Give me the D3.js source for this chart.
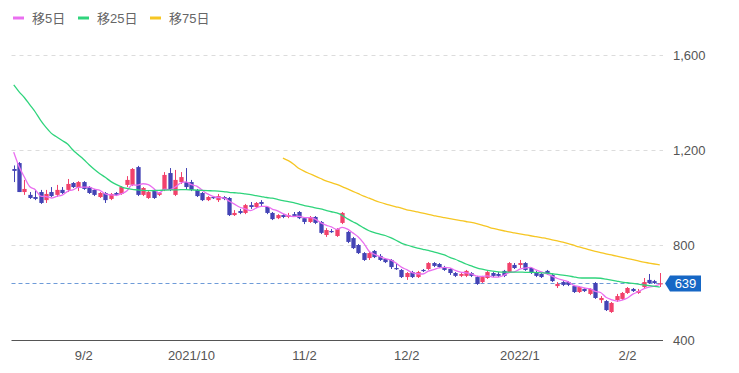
<!DOCTYPE html>
<html>
<head>
<meta charset="utf-8">
<script src="https://cdn.jsdelivr.net/npm/d3@7"></script>
<style>
  body { margin: 0; background: #fff; }
  svg { display: block; font-family: Arial, "Liberation Sans", "Noto Sans CJK JP", sans-serif; }
</style>
</head>
<body>
<svg width="739" height="373"></svg>
<script>
// daily candles, oldest first (2021/8 .. 2022/2)
var opens = [1120,1145,1023,1011,1002,1023,989,1023,1011,1032,
  1032,1061,1040,1065,1044,1032,1002,1019,994,1019,
  1015,1053,1053,1128,1011,998,1032,1011,1032,1103,
  1011,1065,1065,1065,1032,1019,989,1002,989,1002,
  998,926,943,935,968,960,981,960,935,913,
  926,918,930,939,913,897,918,897,842,859,
  838,893,855,829,800,766,745,775,754,741,
  737,703,695,665,686,665,695,699,724,720,
  707,699,682,670,670,682,665,644,661,682,
  678,691,686,716,716,724,703,686,678,691,
  674,627,644,644,627,602,615,594,640,568,
  564,518,568,573,598,615,598,623,653,648,
  636];
var highs = [1135,1149,1074,1023,1032,1032,1032,1044,1053,1044,
  1078,1065,1069,1069,1048,1036,1023,1023,1019,1023,
  1048,1090,1124,1133,1044,1027,1036,1023,1107,1124,
  1116,1107,1124,1074,1036,1023,1006,1006,1015,1006,
  1002,947,952,973,981,981,989,964,939,930,
  930,935,939,943,918,922,922,901,871,867,
  871,939,859,834,804,770,775,779,762,745,
  741,720,699,686,691,691,699,728,728,724,
  712,703,686,682,695,686,670,670,691,686,
  686,695,728,724,737,728,707,691,682,695,
  678,644,648,648,632,627,619,619,644,585,
  568,560,594,602,623,619,615,661,678,653,
  682];
var lows = [1065,1023,1011,994,989,973,977,1002,1002,1015,
  1023,1040,1027,1032,1015,1006,998,977,989,1006,
  1011,1044,1048,1006,1006,994,994,1006,1027,1027,
  1006,1057,1032,1027,1002,985,985,994,981,989,
  922,922,930,930,952,956,964,930,905,909,
  913,913,918,909,888,893,888,846,834,851,
  834,888,808,783,762,733,737,745,733,724,
  699,695,661,653,661,661,686,695,707,703,
  691,674,665,665,665,665,632,640,657,665,
  665,665,682,699,703,691,678,665,661,674,
  644,619,627,627,598,598,602,589,573,556,
  522,514,560,568,594,602,594,619,636,636,
  623];
var closes = [1112,1023,1036,998,994,977,1015,1006,1032,1019,
  1057,1044,1065,1036,1019,1011,1019,989,1015,1011,
  1044,1074,1120,1011,1040,1023,998,1019,1095,1032,
  1074,1086,1044,1032,1006,989,1002,998,1006,994,
  926,935,935,968,960,977,973,935,909,926,
  918,926,922,913,897,918,893,851,863,855,
  867,935,813,787,766,737,766,749,737,728,
  707,699,665,682,665,686,691,724,712,707,
  695,682,670,678,691,670,636,665,686,670,
  670,670,724,703,724,695,682,670,665,678,
  648,636,632,632,602,623,606,615,577,577,
  526,556,585,598,619,606,606,644,640,640,
  639];

// moving averages
var ma5 = [1191,1130,1085,1045,1033,1006,1004,998,1005,1010,
  1026,1032,1043,1044,1044,1035,1030,1015,1011,1009,
  1016,1027,1053,1052,1058,1054,1038,1018,1035,1033,
  1044,1061,1066,1054,1048,1031,1015,1005,1000,998,
  985,972,959,952,945,955,963,963,951,944,
  932,923,920,921,915,915,909,894,884,876,
  866,874,867,851,834,808,774,761,751,743,
  737,724,707,696,684,679,678,690,696,704,
  706,704,693,686,683,678,669,668,670,665,
  665,672,684,687,698,703,706,695,687,678,
  669,659,652,645,630,625,619,616,605,600,
  580,570,564,568,577,593,603,615,623,627,
  634];
var ma25 = [1474,1445,1420,1390,1360,1325,1295,1270,1255,1240,
  1225,1200,1180,1160,1138,1118,1100,1085,1068,1055,
  1045,1038,1034,1032,1030,1029,1029,1030,1031,1032,
  1032,1033,1033,1032,1031,1030,1029,1028,1027,1025,
  1022,1020,1018,1015,1012,1008,1004,1000,997,992,
  987,983,978,972,966,962,956,952,946,940,
  935,925,910,898,886,872,860,852,846,840,
  831,820,808,800,793,787,782,777,771,765,
  758,748,740,730,720,712,704,698,693,690,
  687,686,686,686,686,685,685,684,683,682,
  679,676,673,670,666,662,661,661,661,660,
  656,652,648,644,641,638,635,632,629,626,
  623];
var ma75 = [null,null,null,null,null,null,null,null,null,null,
  null,null,null,null,null,null,null,null,null,null,
  null,null,null,null,null,null,null,null,null,null,
  null,null,null,null,null,null,null,null,null,null,
  null,null,null,null,null,null,null,null,null,null,
  1166,1155,1140,1122,1110,1100,1090,1080,1070,1063,
  1055,1046,1036,1026,1016,1006,997,988,980,973,
  967,961,955,948,944,939,934,929,924,919,
  915,911,907,903,899,895,890,884,877,870,
  865,860,855,851,847,843,839,835,831,827,
  822,817,812,806,799,792,786,779,773,768,
  763,758,753,748,743,738,733,728,724,720,
  716];

var tickIdx = [13, 33, 54, 73, 94, 114];
var tickLabels = ["9/2", "2021/10", "11/2", "12/2", "2022/1", "2/2"];
var yTicks = [400, 800, 1200, 1600];
var gridTicks = [800, 1200, 1600];
var legendNames = ["移5日", "移25日", "移75日"];
var lastPrice = 639;

var colUp = "#f2416b", colDown = "#4343b5";
var maColors = ["#ea6ff0", "#2fd47c", "#f6c623"];

var svg = d3.select("svg");
var plotL = 10.5, plotR = 663, plotT = 55, plotB = 340;

var x = d3.scaleBand()
    .domain(d3.range(closes.length))
    .range([plotL, plotR])
    .padding(0.2);
var bw = x.bandwidth();
var cx = function(i) { return x(i) + bw / 2; };

var y = d3.scaleLinear().domain([400, 1600]).range([plotB, plotT]);

// grid
svg.append("g").selectAll("line")
    .data(gridTicks)
    .enter().append("line")
    .attr("x1", plotL + 1).attr("x2", plotR)
    .attr("y1", function(d) { return Math.round(y(d)) + 0.5; })
    .attr("y2", function(d) { return Math.round(y(d)) + 0.5; })
    .attr("stroke", "#dcdcdc")
    .attr("stroke-dasharray", "4,4");

// axes
var xAxis = d3.axisBottom(x)
    .tickValues(tickIdx)
    .tickFormat(function(d, i) { return tickLabels[i]; })
    .tickSize(0)
    .tickPadding(10);
var gx = svg.append("g")
    .attr("transform", "translate(0," + (plotB + 0.5) + ")")
    .call(xAxis);
gx.select(".domain").attr("stroke", "#555").attr("d", "M" + (plotL + 1) + ",0H" + plotR);
gx.selectAll("text").attr("fill", "#555").style("font-size", "13px");

var yAxis = d3.axisRight(y)
    .tickValues(yTicks)
    .tickFormat(d3.format(","))
    .tickSize(0)
    .tickPadding(10);
var gy = svg.append("g")
    .attr("transform", "translate(" + plotR + ",0)")
    .call(yAxis);
gy.select(".domain").remove();
gy.selectAll("text").attr("fill", "#555").style("font-size", "13px");

// current price line
svg.append("line")
    .attr("x1", plotL + 1).attr("x2", plotR)
    .attr("y1", Math.round(y(lastPrice)) + 0.5).attr("y2", Math.round(y(lastPrice)) + 0.5)
    .attr("stroke", "#6e9bd8")
    .attr("stroke-dasharray", "4,3");

// candles
var candles = svg.append("g").selectAll("g")
    .data(closes.map(function(c, i) { return { i: i, o: opens[i], h: highs[i], l: lows[i], c: c }; }))
    .enter().append("g")
    .attr("fill", function(d) { return d.c >= d.o ? colUp : colDown; })
    .attr("stroke", function(d) { return d.c >= d.o ? colUp : colDown; });

candles.append("line")
    .attr("x1", function(d) { return Math.round(cx(d.i)) + 0.5; })
    .attr("x2", function(d) { return Math.round(cx(d.i)) + 0.5; })
    .attr("y1", function(d) { return y(d.h); })
    .attr("y2", function(d) { return y(d.l); });

candles.append("rect")
    .attr("stroke", "none")
    .attr("x", function(d) { return Math.round(cx(d.i)) + 0.5 - bw / 2; })
    .attr("width", bw)
    .attr("y", function(d) { return y(Math.max(d.o, d.c)); })
    .attr("height", function(d) { return Math.max(1.2, Math.abs(y(d.o) - y(d.c))); });

// moving averages
[ma5, ma25, ma75].forEach(function(series, k) {
  var line = d3.line()
      .defined(function(d) { return d != null; })
      .x(function(d, i) { return cx(i); })
      .y(function(d) { return y(d); })
      .curve(d3.curveMonotoneX);
  svg.append("path")
      .datum(series)
      .attr("fill", "none")
      .attr("stroke", maColors[k])
      .attr("stroke-width", 1.3)
      .attr("d", line);
});

// price tag
var py = Math.round(y(lastPrice)) + 0.5;
svg.append("path")
    .attr("d", "M665," + py + "L670," + (py - 8) + "H701V" + (py + 8) + "H670Z")
    .attr("fill", "#1667c5");
svg.append("text")
    .attr("x", 685.5).attr("y", py + 4.5)
    .attr("text-anchor", "middle")
    .attr("fill", "#fff")
    .style("font-size", "13px")
    .text(lastPrice);

// legend
var legX = [13, 78, 150];
var leg = svg.append("g").selectAll("g")
    .data(legendNames)
    .enter().append("g")
    .attr("transform", function(d, i) { return "translate(" + legX[i] + ",18)"; });
leg.append("line")
    .attr("x1", 0).attr("x2", 11)
    .attr("stroke", function(d, i) { return maColors[i]; })
    .attr("stroke-width", 3);
leg.append("text")
    .attr("x", 19).attr("y", 5)
    .attr("fill", "#666")
    .style("font-size", "13px")
    .text(function(d) { return d; });
</script>
</body>
</html>
